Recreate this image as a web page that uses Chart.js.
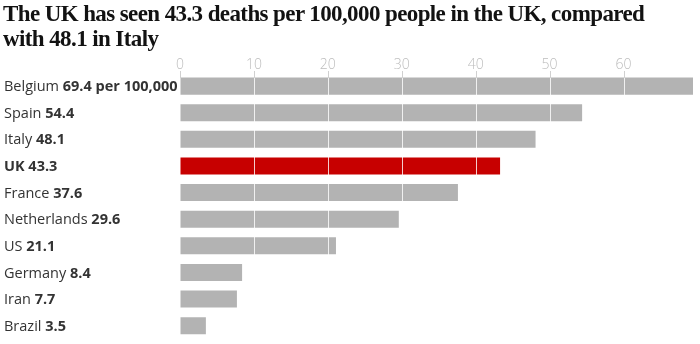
<!DOCTYPE html>
<html>
<head>
<meta charset="utf-8">
<script src="https://cdn.jsdelivr.net/npm/chart.js@4"></script>
<style>
  html, body { margin: 0; padding: 0; background: #fff; }
  #wrap { position: relative; width: 700px; height: 344px; }
  #title {
    position: absolute; left: 3px; top: 1px; width: 697px;
    font-family: "Liberation Serif", serif; font-weight: bold;
    font-size: 23px; line-height: 25px; color: #121212;
    letter-spacing: -0.6px;
  }
</style>
</head>
<body>
<div id="wrap">
  <div id="title"></div>
  <canvas id="deathsChart"></canvas>
</div>
<script>
// chart data
const countries = ['Belgium', 'Spain', 'Italy', 'UK', 'France', 'Netherlands', 'US', 'Germany', 'Iran', 'Brazil'];
const deathsPer100k = [69.4, 54.4, 48.1, 43.3, 37.6, 29.6, 21.1, 8.4, 7.7, 3.5];
const valueLabels = ['69.4 per 100,000', '54.4', '48.1', '43.3', '37.6', '29.6', '21.1', '8.4', '7.7', '3.5'];
const xTicks = [0, 10, 20, 30, 40, 50, 60];
const titleLines = ['The UK has seen 43.3 deaths per 100,000 people in the UK, compared', 'with 48.1 in Italy'];
const highlight = 'UK';

document.getElementById('title').innerHTML = titleLines.join('<br>');

const barColors = countries.map(c => c === highlight ? '#c70000' : '#b3b3b3');

// tick marks + white gridlines drawn on top of the bars, and the mixed-weight country labels
const overlayPlugin = {
  id: 'overlay',
  afterDatasetsDraw(chart) {
    const ctx = chart.ctx;
    const x = chart.scales.x;
    const y = chart.scales.y;
    const area = chart.chartArea;
    const firstBar = chart.getDatasetMeta(0).data[0];
    const barTop = Math.round(firstBar.y - firstBar.height / 2);
    ctx.save();
    ctx.lineWidth = 1;
    xTicks.forEach(v => {
      const px = Math.round(x.getPixelForValue(v)) + 0.5;
      ctx.strokeStyle = '#d0d0d0';
      ctx.beginPath();
      ctx.moveTo(px, barTop - 7);
      ctx.lineTo(px, barTop);
      ctx.stroke();
      if (v === 0) return;
      ctx.strokeStyle = 'rgba(255,255,255,0.8)';
      ctx.beginPath();
      ctx.moveTo(px, barTop);
      ctx.lineTo(px, area.bottom);
      ctx.stroke();
    });
    ctx.restore();
  },
  afterDraw(chart) {
    const ctx = chart.ctx;
    const y = chart.scales.y;
    ctx.save();
    ctx.textBaseline = 'middle';
    ctx.fillStyle = '#333';
    countries.forEach((c, i) => {
      const py = y.getPixelForValue(i) + 1;
      const isHi = c === highlight;
      ctx.font = (isHi ? 'bold ' : '') + '14.5px "Open Sans"';
      const name = c + ' ';
      ctx.fillText(name, 4, py);
      const w = ctx.measureText(name).width;
      ctx.font = 'bold 14.5px "Open Sans"';
      ctx.fillText(valueLabels[i], 4 + w, py);
    });
    ctx.restore();
  }
};

const config = {
  type: 'bar',
  data: {
    labels: countries,
    datasets: [{
      data: deathsPer100k,
      backgroundColor: barColors,
      borderWidth: 0,
      barPercentage: 0.8,
      categoryPercentage: 0.8
    }]
  },
  options: {
    indexAxis: 'y',
    animation: false,
    responsive: true,
    maintainAspectRatio: false,
    layout: { padding: { left: 180, right: 7, top: 58, bottom: 5 } },
    plugins: {
      legend: { display: false },
      tooltip: { enabled: false },
      title: { display: false }
    },
    scales: {
      x: {
        position: 'top',
        min: 0,
        max: 69.4,
        afterBuildTicks: (scale) => {
          scale.ticks = xTicks.map(v => ({ value: v }));
        },
        ticks: {
          color: '#bdbdbd',
          font: { family: 'Open Sans', size: 14, weight: '300' },
          padding: -1
        },
        grid: {
          display: true,
          drawOnChartArea: false,
          drawTicks: false
        },
        border: { display: false }
      },
      y: {
        display: false
      }
    }
  },
  plugins: [overlayPlugin]
};

const deathsChart = new Chart(document.getElementById('deathsChart'), config);
</script>
</body>
</html>
